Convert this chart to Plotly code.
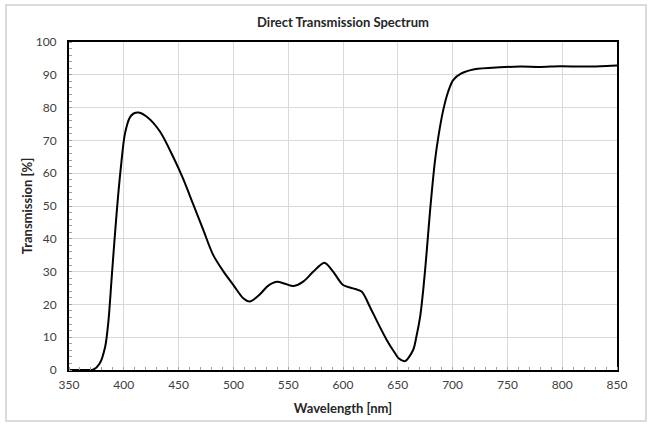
import plotly.graph_objects as go

wavelength = [350, 365, 372, 378, 383, 386, 389, 392, 395, 398, 401, 405.5, 409, 413.5, 421, 433,
              445, 454, 463, 472.5, 481.5, 491, 500, 509, 515, 524, 531, 539.5, 547, 555, 564,
              573, 583, 591, 600, 609, 617, 624.5, 632, 640, 647.5, 651, 656.5, 664, 667, 670.5,
              673.5, 676.5, 679.5, 684, 687, 691.5, 696, 700.5, 708, 720, 743, 762, 780, 798,
              820, 835, 850]
transmission = [0, 0, 0.1, 2, 7.1, 15, 28.4, 41.7, 53.9, 64, 72, 77, 78.2, 78.5, 77.2, 72.7,
                65, 58.4, 50.8, 42.7, 35.1, 30, 25.9, 21.9, 20.9, 23, 25.5, 26.9, 26.3, 25.6, 27,
                30, 32.7, 30, 25.9, 24.9, 23.9, 19.3, 14.2, 9.1, 5.1, 3.5, 2.7, 6.1, 10.2, 16.5,
                25.4, 36.6, 48.8, 64, 71.1, 79.3, 84.9, 88.4, 90.4, 91.7, 92.3, 92.5, 92.4, 92.6,
                92.5, 92.6, 92.8]

x_ticks = list(range(350, 851, 50))
y_ticks = list(range(0, 101, 10))

FONT = "Lato, 'Open Sans', sans-serif"

fig = go.Figure()
fig.add_trace(go.Scatter(
    x=wavelength, y=transmission, mode="lines",
    line=dict(color="black", width=2, shape="spline", smoothing=0.8),
    hoverinfo="skip", showlegend=False,
))

# outer light border around the chart area
L, R, T, B = 69, 617, 42, 370
W, H = R - L, B - T
def px(xp):
    return (xp - L) / W
def py(yp):
    return (B - yp) / H

fig.add_shape(type="rect", xref="paper", yref="paper",
              x0=px(6), x1=px(646), y0=py(421), y1=py(5),
              line=dict(color="#d0d0d0", width=1.5), layer="below")

fig.update_layout(
    width=652, height=426,
    margin=dict(l=L, r=652 - R, t=T, b=426 - B),
    paper_bgcolor="white", plot_bgcolor="white",
    font=dict(family=FONT, color="#404040", size=11),
    title=dict(text="<b>Direct Transmission Spectrum</b>", x=(L + R) / 2 / 652, xanchor="center",
               y=1 - 22 / 426, yanchor="middle",
               font=dict(family=FONT, size=13, color="#262626")),
)
fig.update_xaxes(
    range=[350, 850], tickvals=x_ticks, ticktext=[str(v) for v in x_ticks],
    showgrid=True, gridcolor="#d9d9d9", gridwidth=1,
    showline=True, linecolor="black", linewidth=2, mirror=True,
    ticks="", tickfont=dict(size=12, color="#404040"), ticklabelstandoff=3,
    minor=dict(dtick=10, ticks="inside", ticklen=3, tickcolor="#a0a0a0", showgrid=False),
    title=dict(text="<b>Wavelength [nm]</b>", font=dict(size=13, color="#262626"), standoff=12),
    zeroline=False,
)
fig.update_yaxes(
    range=[0, 100], tickvals=y_ticks, ticktext=[str(v) for v in y_ticks],
    showgrid=True, gridcolor="#d9d9d9", gridwidth=1,
    showline=True, linecolor="black", linewidth=2, mirror=True,
    ticks="", tickfont=dict(size=12, color="#404040"), ticklabelstandoff=8,
    minor=dict(dtick=2, ticks="inside", ticklen=3, tickcolor="#a0a0a0", showgrid=False),
    title=dict(text="<b>Transmission [%]</b>", font=dict(size=13, color="#262626"), standoff=0),
    zeroline=False,
)

fig.write_html("out.html", config={"displayModeBar": False},
               post_script="document.body.style.margin='0';document.body.style.padding='0';")
